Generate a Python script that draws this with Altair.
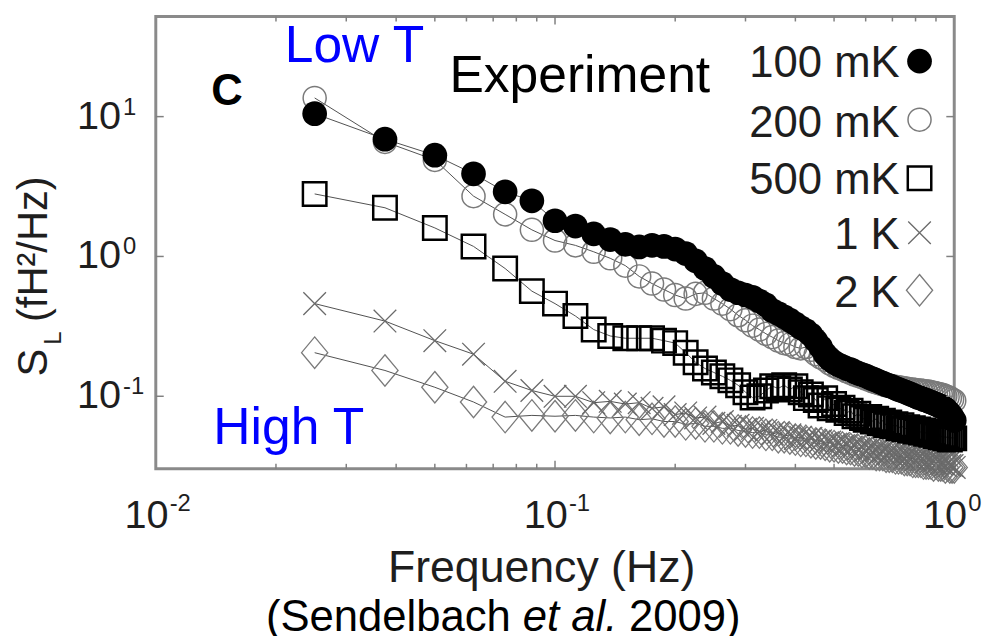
import altair as alt
import pandas as pd

# ---------------- data ----------------
freq = [0.025, 0.0375, 0.05, 0.0625, 0.075, 0.0875, 0.1, 0.1125, 0.125, 0.1375,
        0.15, 0.1625, 0.175, 0.1875, 0.2, 0.2125, 0.225, 0.2375, 0.25, 0.2625,
        0.275, 0.2875, 0.3, 0.3125, 0.325, 0.3375, 0.35, 0.3625, 0.375, 0.3875,
        0.4, 0.4125, 0.425, 0.4375, 0.45, 0.4625, 0.475, 0.4875, 0.5, 0.5125,
        0.525, 0.5375, 0.55, 0.5625, 0.575, 0.5875, 0.6, 0.6125, 0.625, 0.6375,
        0.65, 0.6625, 0.675, 0.6875, 0.7, 0.7125, 0.725, 0.7375, 0.75, 0.7625,
        0.775, 0.7875, 0.8, 0.8125, 0.825, 0.8375, 0.85, 0.8625, 0.875, 0.8875,
        0.9, 0.9125, 0.925, 0.9375, 0.95, 0.9625, 0.975, 0.9875, 1.0]

s_100mK = [10.5, 6.9, 5.3, 3.9, 2.9, 2.5, 1.8, 1.65, 1.45, 1.32,
           1.22, 1.17, 1.2, 1.18, 1.13, 1.05, 0.93, 0.82, 0.72, 0.64,
           0.58, 0.55, 0.53, 0.51, 0.48, 0.45, 0.41, 0.39, 0.37, 0.35,
           0.33, 0.31, 0.295, 0.275, 0.25, 0.225, 0.2, 0.185, 0.175, 0.168,
           0.163, 0.158, 0.155, 0.15, 0.146, 0.143, 0.14, 0.136, 0.133, 0.13,
           0.127, 0.124, 0.121, 0.119, 0.117, 0.114, 0.112, 0.11, 0.108, 0.106,
           0.104, 0.102, 0.1, 0.098, 0.097, 0.095, 0.094, 0.092, 0.091, 0.089,
           0.088, 0.086, 0.085, 0.083, 0.081, 0.078, 0.075, 0.071, 0.067]

s_200mK = [13.6, 6.6, 4.9, 2.7, 2.0, 1.55, 1.3, 1.2, 1.08, 0.97,
           0.86, 0.72, 0.64, 0.58, 0.53, 0.5, 0.54, 0.55, 0.5, 0.46,
           0.42, 0.38, 0.35, 0.32, 0.3, 0.28, 0.265, 0.25, 0.24, 0.235,
           0.225, 0.22, 0.225, 0.215, 0.2, 0.19, 0.182, 0.172, 0.165, 0.16,
           0.156, 0.151, 0.147, 0.143, 0.14, 0.137, 0.134, 0.131, 0.128, 0.126,
           0.124, 0.122, 0.12, 0.119, 0.118, 0.117, 0.116, 0.115, 0.114, 0.113,
           0.112, 0.112, 0.111, 0.11, 0.11, 0.109, 0.108, 0.108, 0.107, 0.106,
           0.105, 0.104, 0.103, 0.102, 0.1, 0.099, 0.097, 0.095, 0.093]

s_500mK = [2.8, 2.23, 1.6, 1.18, 0.82, 0.565, 0.46, 0.375, 0.3, 0.27,
           0.26, 0.26, 0.26, 0.25, 0.24, 0.205, 0.175, 0.158, 0.148, 0.139,
           0.13, 0.12, 0.107, 0.098, 0.1, 0.11, 0.118, 0.114, 0.12, 0.112,
           0.118, 0.107, 0.097, 0.103, 0.094, 0.086, 0.097, 0.082, 0.088, 0.08,
           0.083, 0.076, 0.079, 0.072, 0.075, 0.07, 0.068, 0.071, 0.066, 0.069,
           0.064, 0.067, 0.062, 0.065, 0.061, 0.063, 0.059, 0.062, 0.058, 0.06,
           0.057, 0.059, 0.056, 0.058, 0.055, 0.057, 0.054, 0.056, 0.053, 0.055,
           0.052, 0.054, 0.051, 0.053, 0.05, 0.052, 0.049, 0.051, 0.05]

s_1K = [0.46, 0.345, 0.25, 0.2, 0.128, 0.11, 0.1, 0.1, 0.09, 0.092,
        0.088, 0.09, 0.082, 0.084, 0.074, 0.076, 0.07, 0.071, 0.064, 0.066,
        0.061, 0.062, 0.058, 0.059, 0.056, 0.057, 0.054, 0.055, 0.052, 0.053,
        0.05, 0.051, 0.049, 0.05, 0.048, 0.048, 0.046, 0.047, 0.045, 0.046,
        0.044, 0.045, 0.043, 0.044, 0.042, 0.043, 0.041, 0.042, 0.04, 0.041,
        0.039, 0.04, 0.038, 0.039, 0.038, 0.038, 0.037, 0.037, 0.036, 0.037,
        0.036, 0.036, 0.035, 0.036, 0.035, 0.035, 0.034, 0.035, 0.034, 0.034,
        0.033, 0.034, 0.033, 0.033, 0.032, 0.033, 0.032, 0.032, 0.031]

s_2K = [0.205, 0.153, 0.116, 0.091, 0.071, 0.073, 0.072, 0.073, 0.071, 0.07,
        0.071, 0.068, 0.069, 0.066, 0.066, 0.063, 0.064, 0.061, 0.061, 0.059,
        0.059, 0.057, 0.056, 0.055, 0.055, 0.053, 0.053, 0.051, 0.051, 0.05,
        0.049, 0.048, 0.048, 0.047, 0.046, 0.046, 0.045, 0.044, 0.044, 0.043,
        0.043, 0.042, 0.042, 0.041, 0.041, 0.04, 0.04, 0.039, 0.039, 0.038,
        0.038, 0.038, 0.037, 0.037, 0.037, 0.036, 0.036, 0.036, 0.035, 0.035,
        0.035, 0.034, 0.034, 0.034, 0.034, 0.033, 0.033, 0.033, 0.033, 0.032,
        0.033, 0.032, 0.032, 0.032, 0.031, 0.032, 0.031, 0.031, 0.031]

series_names = ["100 mK", "200 mK", "500 mK", "1 K", "2 K"]
series_values = [s_100mK, s_200mK, s_500mK, s_1K, s_2K]

x_minor_ticks = [0.02, 0.03, 0.04, 0.05, 0.06, 0.07, 0.08, 0.09,
                 0.2, 0.3, 0.4, 0.5, 0.6, 0.7, 0.8, 0.9]
x_major_ticks = [0.1]
y_major_ticks = [0.1, 1, 10]
x_label_values = [0.01, 0.1, 1.0]
x_label_exps = ["-2", "-1", "0"]
y_label_values = [0.1, 1, 10]
y_label_exps = ["-1", "0", "1"]

panel_label = "C"
low_label = "Low T"
high_label = "High T"
exp_label = "Experiment"
x_title = "Frequency (Hz)"
y_title_parts = ["S", "L", "(fH\u00b2/Hz)"]
cite_parts = ["(Sendelbach", "et al.", "2009)"]

# ---------------- chart ----------------
W, H = 805, 456
FONT = "Liberation Sans"
TXT = "#1e1e1e"
XS = alt.Scale(type="log", domain=[0.01, 1.0], nice=False)
YS = alt.Scale(type="log", domain=[0.0303, 52.0], nice=False)


def X(field):
    return alt.X(f"{field}:Q", scale=XS, axis=None)


def Y(field):
    return alt.Y(f"{field}:Q", scale=YS, axis=None)


styles = {
    "100 mK": dict(shape="circle", filled=True, color="black", size=620, opacity=1),
    "200 mK": dict(shape="circle", filled=False, color="#7a7a7a", strokeWidth=1.5, size=540, opacity=1),
    "500 mK": dict(shape="square", filled=False, color="black", strokeWidth=2.5, size=560, opacity=1),
    "1 K": dict(shape="M-1,-1L1,1M1,-1L-1,1", filled=False, color="#6a6a6a", strokeWidth=1.3, size=520, opacity=1),
    "2 K": dict(shape="M0,-1.2L1,0L0,1.2L-1,0Z", filled=False, color="#7a7a7a", strokeWidth=1.3, size=700, opacity=1),
}

layers = []

# data series, drawn from highest temperature to lowest
for name, vals in reversed(list(zip(series_names, series_values))):
    d = pd.DataFrame({"f": freq, "S": vals})
    base = alt.Chart(d).encode(x=X("f"), y=Y("S"))
    layers.append(base.mark_line(color="#505050", strokeWidth=1))
    layers.append(base.mark_point(**styles[name]))

# inward tick marks (all four sides)
tick_col = "#808080"
dxm = pd.DataFrame({"f": x_minor_ticks})
dxM = pd.DataFrame({"f": x_major_ticks})
dyM = pd.DataFrame({"S": y_major_ticks})
for dd, ln in [(dxm, 5), (dxM, 8)]:
    layers.append(alt.Chart(dd).mark_rule(color=tick_col, strokeWidth=1.5).encode(
        x=X("f"), y=alt.value(H), y2=alt.value(H - ln)))
    layers.append(alt.Chart(dd).mark_rule(color=tick_col, strokeWidth=1.5).encode(
        x=X("f"), y=alt.value(0), y2=alt.value(ln)))
layers.append(alt.Chart(dyM).mark_rule(color=tick_col, strokeWidth=1.5).encode(
    y=Y("S"), x=alt.value(0), x2=alt.value(8)))
layers.append(alt.Chart(dyM).mark_rule(color=tick_col, strokeWidth=1.5).encode(
    y=Y("S"), x=alt.value(W), x2=alt.value(W - 8)))

# tick labels (10 with superscript exponent)
dxl = pd.DataFrame({"f": x_label_values, "e": x_label_exps, "b": ["10"] * 3})
layers.append(alt.Chart(dxl).mark_text(font=FONT, fontSize=40, color=TXT, align="right",
                                       baseline="alphabetic", dx=13).encode(
    x=X("f"), y=alt.value(H + 60), text="b:N"))
layers.append(alt.Chart(dxl).mark_text(font=FONT, fontSize=24, color=TXT, align="left",
                                       baseline="alphabetic", dx=14).encode(
    x=X("f"), y=alt.value(H + 43), text="e:N"))
dyl = pd.DataFrame({"S": y_label_values, "e": y_label_exps, "b": ["10"] * 3})
layers.append(alt.Chart(dyl).mark_text(font=FONT, fontSize=40, color=TXT, align="right",
                                       baseline="alphabetic", dy=12).encode(
    y=Y("S"), x=alt.value(-35), text="b:N"))
layers.append(alt.Chart(dyl).mark_text(font=FONT, fontSize=24, color=TXT, align="left",
                                       baseline="alphabetic", dy=-2).encode(
    y=Y("S"), x=alt.value(-33), text="e:N"))


def label(txt, x, y, **kw):
    props = dict(font=FONT, baseline="alphabetic", align="left")
    props.update(kw)
    return alt.Chart(pd.DataFrame({"t": [txt]})).mark_text(**props).encode(
        x=alt.value(x), y=alt.value(y), text="t:N")


# legend (labels left of symbols)
leg_text_y = [61, 121, 179, 234, 293]
leg_mark_y = [45, 104, 163, 218, 276]
for i, name in enumerate(series_names):
    layers.append(label(name, 750, leg_text_y[i], fontSize=44, color=TXT, align="right"))
    layers.append(alt.Chart(pd.DataFrame({"n": [name]})).mark_point(**styles[name]).encode(
        x=alt.value(770), y=alt.value(leg_mark_y[i])))

# annotations
layers.append(label(panel_label, 56, 89, fontSize=44, fontWeight="bold", color="black"))
layers.append(label(low_label, 130, 46, fontSize=52, color="#0000ff"))
layers.append(label(high_label, 58, 431, fontSize=52, color="#0000ff"))
layers.append(label(exp_label, 296, 76, fontSize=52, color="black"))

# axis titles
layers.append(label(x_title, 389, 570, fontSize=45, color=TXT, align="center"))
layers.append(label(y_title_parts[0], -110, 363, fontSize=42, color=TXT, angle=270))
layers.append(label(y_title_parts[1], -96, 331, fontSize=24, color=TXT, angle=270))
layers.append(label(y_title_parts[2], -110, 308, fontSize=42, color=TXT, angle=270))

# citation
layers.append(label(cite_parts[0], 358, 620, fontSize=44, color="black", align="right"))
layers.append(label(cite_parts[1], 370, 620, fontSize=44, color="black", fontStyle="italic"))
layers.append(label(cite_parts[2], 477, 620, fontSize=44, color="black"))

chart = alt.layer(*layers).properties(
    width=W, height=H,
    autosize=alt.AutoSizeParams(type="none"),
    padding={"left": 149, "top": 6, "right": 30, "bottom": 166},
).configure_view(stroke="#8a8a8a", strokeWidth=3)

chart.save("out.html", embed_options={"renderer": "svg", "actions": False})
